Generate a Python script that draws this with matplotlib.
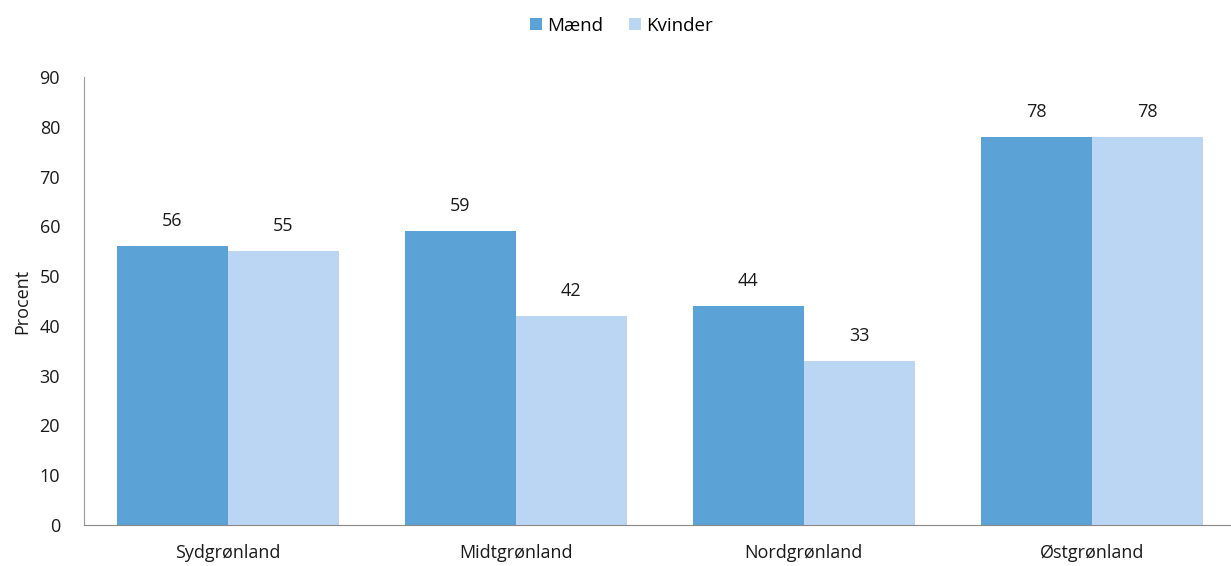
import numpy as np
import matplotlib.pyplot as plt

regions = ['Sydgrønland', 'Midtgrønland', 'Nordgrønland', 'Østgrønland']
maend = [56, 59, 44, 78]
kvinder = [55, 42, 33, 78]
yticks = list(range(0, 100, 10))

plt.rcParams['font.family'] = ['Open Sans', 'DejaVu Sans']
fs = 13

fig = plt.figure(figsize=(12.31, 5.66), dpi=100)
ax = fig.add_axes([0.068, 0.0724, 0.936, 0.7916])

x = np.arange(len(regions))
w = 0.385
b1 = ax.bar(x - w / 2, maend, w, color='#5ba3d6', label='Mænd')
b2 = ax.bar(x + w / 2, kvinder, w, color='#bad6f3', label='Kvinder')

for bars in (b1, b2):
    for r in bars:
        ax.text(r.get_x() + r.get_width() / 2, r.get_height() + 3.2, str(int(r.get_height())),
                ha='center', va='bottom', fontsize=fs, color='#1a1a1a')

ax.set_xlim(-0.5, 3.5)
ax.set_ylim(0, 90)
ax.set_yticks(yticks)
ax.set_xticks(x)
ax.set_xticklabels(regions)
ax.tick_params(axis='both', length=0, labelsize=fs, colors='#1a1a1a')
ax.tick_params(axis='y', pad=17)
ax.tick_params(axis='x', pad=14)
ax.set_ylabel('Procent', fontsize=fs, color='#1a1a1a', labelpad=6)

for s in ['top', 'right']:
    ax.spines[s].set_visible(False)
ax.spines['left'].set_color('#999999')
ax.spines['bottom'].set_color('#888888')

fig.legend(loc='upper center', bbox_to_anchor=(0.505, 1.0), ncol=2, frameon=False,
           fontsize=13.5, handlelength=0.6, handleheight=0.6, handletextpad=0.3,
           columnspacing=1.4)

fig.savefig('out.png', dpi=100)
